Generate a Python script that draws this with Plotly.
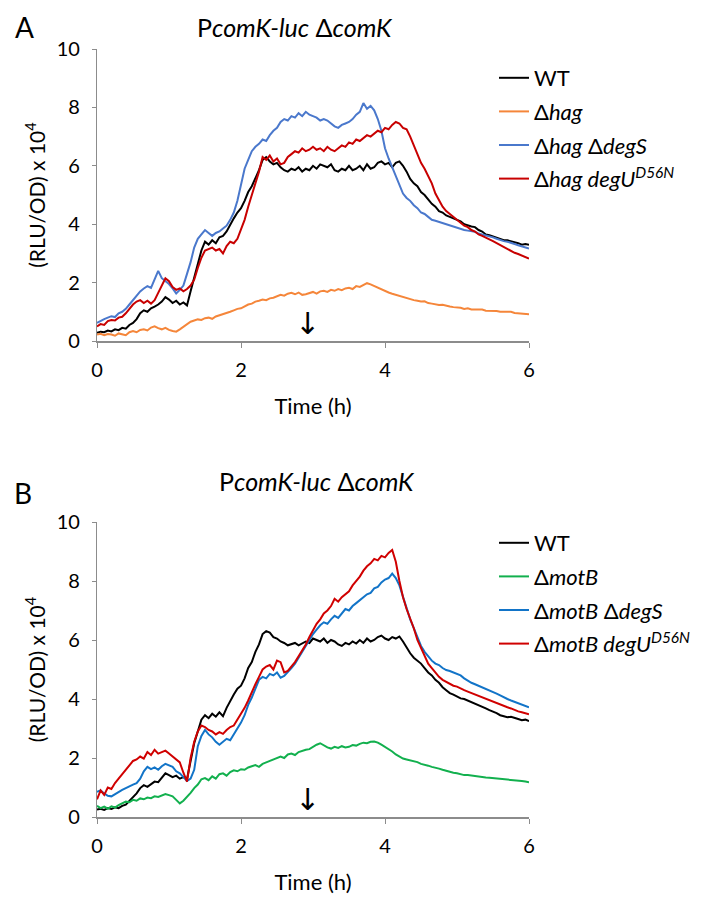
import plotly.graph_objects as go

# ---------------- data ----------------
TIME_H = [0.00, 0.05, 0.10, 0.15, 0.20, 0.25, 0.30, 0.35, 0.40, 0.45,
          0.50, 0.55, 0.60, 0.65, 0.70, 0.75, 0.80, 0.85, 0.90, 0.95,
          1.00, 1.05, 1.10, 1.15, 1.20, 1.25, 1.30, 1.35, 1.40, 1.45,
          1.50, 1.55, 1.60, 1.65, 1.70, 1.75, 1.80, 1.85, 1.90, 1.95,
          2.00, 2.05, 2.10, 2.15, 2.20, 2.25, 2.30, 2.35, 2.40, 2.45,
          2.50, 2.55, 2.60, 2.65, 2.70, 2.75, 2.80, 2.85, 2.90, 2.95,
          3.00, 3.05, 3.10, 3.15, 3.20, 3.25, 3.30, 3.35, 3.40, 3.45,
          3.50, 3.55, 3.60, 3.65, 3.70, 3.75, 3.80, 3.85, 3.90, 3.95,
          4.00, 4.05, 4.10, 4.15, 4.20, 4.25, 4.30, 4.35, 4.40, 4.45,
          4.50, 4.55, 4.60, 4.65, 4.70, 4.75, 4.80, 4.85, 4.90, 4.95,
          5.00, 5.05, 5.10, 5.15, 5.20, 5.25, 5.30, 5.35, 5.40, 5.45,
          5.50, 5.55, 5.60, 5.65, 5.70, 5.75, 5.80, 5.85, 5.90, 5.95,
          6.00]

# Panel A
A_WT = [0.28, 0.32, 0.30, 0.36, 0.33, 0.40, 0.37, 0.45, 0.42, 0.55,
        0.62, 0.75, 0.95, 1.05, 1.00, 1.12, 1.18, 1.25, 1.35, 1.50,
        1.42, 1.30, 1.38, 1.25, 1.32, 1.22, 1.70, 2.20, 2.60, 3.10,
        3.40, 3.30, 3.45, 3.35, 3.55, 3.60, 3.75, 4.00, 4.20, 4.40,
        4.55, 4.80, 5.10, 5.30, 5.55, 5.85, 6.20, 6.30, 6.15, 6.05,
        6.10, 5.95, 5.85, 5.80, 5.90, 5.85, 5.95, 5.80, 5.90, 5.85,
        6.00, 5.90, 6.05, 6.00, 5.95, 6.05, 5.85, 5.80, 5.90, 5.85,
        6.00, 5.85, 5.90, 6.00, 5.85, 6.05, 5.90, 5.95, 6.10, 6.15,
        6.05, 6.10, 5.95, 6.10, 6.15, 6.00, 5.80, 5.55, 5.40, 5.30,
        5.10, 5.00, 4.85, 4.70, 4.60, 4.45, 4.40, 4.30, 4.25, 4.20,
        4.15, 4.10, 4.00, 3.95, 3.92, 3.90, 3.80, 3.75, 3.65, 3.62,
        3.58, 3.55, 3.50, 3.45, 3.45, 3.42, 3.38, 3.35, 3.30, 3.32,
        3.30]
A_HAG = [0.22, 0.25, 0.20, 0.24, 0.22, 0.18, 0.26, 0.22, 0.20, 0.30,
         0.34, 0.30, 0.38, 0.40, 0.36, 0.46, 0.50, 0.44, 0.40, 0.45,
         0.38, 0.34, 0.32, 0.40, 0.48, 0.55, 0.66, 0.70, 0.74, 0.72,
         0.78, 0.80, 0.76, 0.84, 0.88, 0.90, 0.94, 1.00, 1.05, 1.10,
         1.12, 1.18, 1.25, 1.28, 1.35, 1.38, 1.42, 1.40, 1.46, 1.48,
         1.52, 1.58, 1.55, 1.62, 1.65, 1.60, 1.66, 1.58, 1.60, 1.65,
         1.68, 1.62, 1.70, 1.72, 1.68, 1.75, 1.72, 1.78, 1.74, 1.80,
         1.82, 1.78, 1.88, 1.85, 1.92, 1.98, 1.94, 1.88, 1.84, 1.78,
         1.72, 1.66, 1.62, 1.58, 1.55, 1.50, 1.46, 1.44, 1.40, 1.38,
         1.35, 1.36, 1.30, 1.28, 1.25, 1.23, 1.24, 1.20, 1.18, 1.16,
         1.15, 1.14, 1.10, 1.12, 1.08, 1.08, 1.06, 1.08, 1.04, 1.04,
         1.02, 1.03, 1.00, 1.00, 0.98, 1.00, 0.96, 0.95, 0.94, 0.93,
         0.92]
A_HAG_DEGS = [0.62, 0.70, 0.75, 0.80, 0.85, 0.82, 0.95, 1.00, 1.10, 1.25,
              1.40, 1.55, 1.70, 1.80, 1.88, 1.82, 2.10, 2.40, 2.15, 2.05,
              1.95, 1.80, 1.63, 1.75, 1.90, 2.30, 2.70, 3.20, 3.50, 3.65,
              3.80, 3.70, 3.60, 3.70, 3.75, 3.85, 3.95, 4.15, 4.40, 4.80,
              5.40, 5.90, 6.20, 6.50, 6.65, 6.75, 6.90, 6.85, 7.05, 7.20,
              7.30, 7.50, 7.60, 7.55, 7.70, 7.65, 7.80, 7.70, 7.85, 7.75,
              7.70, 7.65, 7.55, 7.60, 7.55, 7.45, 7.35, 7.30, 7.40, 7.45,
              7.50, 7.60, 7.75, 7.85, 8.15, 7.95, 8.05, 7.90, 7.60, 7.20,
              6.60, 6.25, 5.95, 5.60, 5.30, 5.05, 4.90, 4.80, 4.65, 4.55,
              4.40, 4.35, 4.25, 4.15, 4.12, 4.08, 4.05, 4.00, 3.95, 3.92,
              3.88, 3.85, 3.80, 3.78, 3.75, 3.74, 3.68, 3.65, 3.60, 3.58,
              3.55, 3.50, 3.45, 3.42, 3.40, 3.35, 3.32, 3.28, 3.24, 3.20,
              3.17]
A_HAG_DEGU = [0.50, 0.58, 0.55, 0.68, 0.72, 0.70, 0.80, 0.83, 0.95, 1.10,
              1.25, 1.35, 1.40, 1.30, 1.38, 1.28, 1.40, 1.65, 1.90, 2.15,
              2.05, 1.85, 1.75, 1.80, 1.70, 1.78, 1.90, 2.10, 2.50, 2.85,
              3.10, 3.15, 3.20, 3.10, 3.15, 3.00, 3.25, 3.40, 3.35, 3.50,
              3.80, 4.15, 4.60, 5.00, 5.40, 5.80, 6.30, 6.20, 6.35, 6.15,
              6.25, 6.05, 6.10, 6.30, 6.40, 6.50, 6.45, 6.60, 6.50, 6.55,
              6.65, 6.55, 6.60, 6.50, 6.65, 6.55, 6.50, 6.60, 6.70, 6.65,
              6.80, 6.75, 6.90, 6.85, 6.95, 7.05, 7.00, 7.10, 7.20, 7.15,
              7.30, 7.25, 7.40, 7.50, 7.45, 7.30, 7.25, 7.00, 6.70, 6.40,
              6.10, 5.90, 5.65, 5.40, 5.05, 4.80, 4.60, 4.45, 4.35, 4.25,
              4.15, 4.05, 3.95, 3.90, 3.80, 3.75, 3.65, 3.60, 3.55, 3.48,
              3.42, 3.35, 3.30, 3.22, 3.15, 3.10, 3.02, 2.98, 2.92, 2.88,
              2.82]

# Panel B
B_WT = [0.25, 0.28, 0.24, 0.30, 0.27, 0.33, 0.30, 0.38, 0.42, 0.55,
        0.68, 0.80, 0.98, 1.08, 1.02, 1.12, 1.20, 1.18, 1.32, 1.48,
        1.42, 1.35, 1.40, 1.30, 1.35, 1.28, 1.90, 2.50, 2.90, 3.30,
        3.45, 3.35, 3.50, 3.40, 3.55, 3.42, 3.70, 3.95, 4.15, 4.35,
        4.45, 4.70, 5.05, 5.25, 5.60, 5.85, 6.20, 6.30, 6.25, 6.10,
        6.05, 5.95, 5.90, 5.82, 5.85, 5.90, 5.82, 5.88, 5.95, 5.90,
        6.05, 6.00, 5.95, 6.05, 5.90, 6.00, 5.95, 5.85, 5.80, 5.90,
        5.85, 5.95, 5.88, 6.00, 5.90, 6.05, 5.95, 6.00, 6.10, 6.15,
        6.05, 6.00, 6.10, 6.05, 6.12, 5.95, 5.75, 5.55, 5.40, 5.30,
        5.20, 5.05, 4.90, 4.80, 4.65, 4.55, 4.40, 4.30, 4.20, 4.15,
        4.08, 4.02, 4.00, 3.95, 3.90, 3.85, 3.80, 3.75, 3.68, 3.62,
        3.58, 3.52, 3.45, 3.42, 3.38, 3.40, 3.35, 3.32, 3.28, 3.30,
        3.25]
B_MOTB = [0.38, 0.30, 0.35, 0.28, 0.36, 0.32, 0.40, 0.45, 0.52, 0.50,
          0.58, 0.55, 0.63, 0.60, 0.66, 0.64, 0.70, 0.68, 0.72, 0.78,
          0.74, 0.70, 0.58, 0.46, 0.55, 0.68, 0.82, 0.98, 1.10, 1.28,
          1.32, 1.25, 1.38, 1.30, 1.45, 1.48, 1.40, 1.52, 1.58, 1.55,
          1.62, 1.60, 1.68, 1.72, 1.76, 1.70, 1.80, 1.85, 1.90, 1.94,
          1.98, 2.05, 2.00, 2.12, 2.15, 2.10, 2.20, 2.25, 2.28, 2.30,
          2.38, 2.45, 2.50, 2.42, 2.36, 2.32, 2.38, 2.34, 2.40, 2.36,
          2.38, 2.44, 2.42, 2.48, 2.52, 2.50, 2.55, 2.56, 2.52, 2.45,
          2.38, 2.30, 2.22, 2.12, 2.05, 1.98, 1.95, 1.92, 1.88, 1.86,
          1.80, 1.78, 1.74, 1.70, 1.68, 1.64, 1.60, 1.56, 1.53, 1.50,
          1.48, 1.45, 1.42, 1.42, 1.40, 1.38, 1.37, 1.36, 1.34, 1.33,
          1.32, 1.30, 1.30, 1.28, 1.27, 1.25, 1.25, 1.24, 1.22, 1.20,
          1.18]
B_MOTB_DEGS = [0.85, 0.90, 0.80, 0.72, 0.70, 0.78, 0.85, 0.92, 0.98, 1.05,
               1.10, 1.15, 1.30, 1.55, 1.70, 1.62, 1.68, 1.60, 1.72, 1.80,
               1.75, 1.70, 1.55, 1.48, 1.35, 1.22, 1.30, 1.60, 2.40, 2.75,
               2.95, 2.80, 2.70, 2.55, 2.45, 2.55, 2.65, 2.60, 2.80, 3.00,
               3.20, 3.45, 3.80, 4.05, 4.35, 4.65, 4.75, 4.70, 4.85, 4.80,
               4.90, 4.72, 4.78, 4.90, 5.05, 5.20, 5.40, 5.60, 5.80, 6.00,
               6.20, 6.35, 6.50, 6.60, 6.55, 6.70, 6.82, 6.75, 6.90, 7.05,
               7.00, 7.15, 7.25, 7.35, 7.45, 7.55, 7.60, 7.75, 7.80, 7.95,
               8.05, 8.10, 8.25, 8.10, 7.85, 7.45, 7.10, 6.70, 6.40, 6.10,
               5.80, 5.60, 5.45, 5.30, 5.20, 5.15, 5.05, 4.98, 4.95, 4.90,
               4.85, 4.80, 4.70, 4.62, 4.55, 4.50, 4.45, 4.40, 4.35, 4.30,
               4.25, 4.18, 4.12, 4.05, 4.00, 3.95, 3.90, 3.85, 3.80, 3.75,
               3.72]
B_MOTB_DEGU = [0.60, 0.90, 0.75, 1.00, 0.95, 1.15, 1.30, 1.45, 1.60, 1.75,
               1.90, 1.95, 2.05, 1.98, 2.20, 2.10, 2.28, 2.15, 2.20, 2.25,
               2.15, 2.05, 1.95, 1.85, 1.50, 1.20, 2.00, 2.55, 2.90, 3.10,
               3.05, 2.95, 2.90, 2.80, 2.88, 2.82, 2.95, 3.05, 3.10, 3.30,
               3.50, 3.70, 3.95, 4.25, 4.50, 4.75, 5.00, 5.10, 5.15, 5.00,
               5.30, 5.25, 4.90, 4.95, 5.10, 5.25, 5.45, 5.65, 5.85, 6.10,
               6.35, 6.55, 6.70, 6.90, 7.00, 7.15, 7.40, 7.30, 7.45, 7.55,
               7.65, 7.85, 8.00, 8.15, 8.35, 8.50, 8.60, 8.75, 8.70, 8.85,
               8.80, 8.95, 9.05, 8.65, 8.00, 7.45, 7.05, 6.75, 6.40, 6.00,
               5.75, 5.45, 5.20, 5.05, 4.90, 4.75, 4.65, 4.58, 4.50, 4.45,
               4.42, 4.35, 4.30, 4.25, 4.20, 4.15, 4.10, 4.05, 4.00, 3.95,
               3.90, 3.85, 3.80, 3.75, 3.72, 3.68, 3.62, 3.58, 3.55, 3.52,
               3.48]

NAMES_A = ["WT", "Δ<i>hag</i>", "Δ<i>hag</i> Δ<i>degS</i>",
           "Δ<i>hag degU<sup>D56N</sup></i>"]
NAMES_B = ["WT", "Δ<i>motB</i>", "Δ<i>motB</i> Δ<i>degS</i>",
           "Δ<i>motB degU<sup>D56N</sup></i>"]
COLORS_A = ["#000000", "#F5863A", "#4A78CC", "#C80000"]
COLORS_B = ["#000000", "#12B04E", "#1274C8", "#D00000"]

TITLE_TEXT = "P<i>comK-luc</i> Δ<i>comK</i>"
Y_TITLE = "(RLU/OD) x 10<sup>4</sup>"
X_TITLE = "Time (h)"
X_TICKS = [0, 2, 4, 6]
Y_TICKS = [0, 2, 4, 6, 8, 10]
ARROW_TIME_H = 2.93

FONT = "Lato"
# the page has an 8px body margin, so the figure is drawn 8px in from the
# window's corner; size it to fill the rest of the 704x903 window
OFF = 8
W, H = 704 - OFF, 903 - OFF

fig = go.Figure()

series_a = [A_WT, A_HAG, A_HAG_DEGS, A_HAG_DEGU]
series_b = [B_WT, B_MOTB, B_MOTB_DEGS, B_MOTB_DEGU]

for i, (vals, nm, col) in enumerate(zip(series_a, NAMES_A, COLORS_A)):
    fig.add_trace(go.Scatter(x=TIME_H, y=vals, mode="lines", name=nm,
                             line=dict(color=col, width=2),
                             xaxis="x", yaxis="y", legend="legend",
                             legendgroup="a%d" % i))
for i, (vals, nm, col) in enumerate(zip(series_b, NAMES_B, COLORS_B)):
    fig.add_trace(go.Scatter(x=TIME_H, y=vals, mode="lines", name=nm,
                             line=dict(color=col, width=2),
                             xaxis="x2", yaxis="y2", legend="legend2",
                             legendgroup="b%d" % i))


def px_x(p):
    """window pixel x -> paper fraction"""
    return (p - OFF) / W


def px_y(p):
    """window pixel y (from top) -> paper fraction"""
    return 1 - (p - OFF) / H


axis_gray = "#8C8C8C"
xdom = [px_x(97), px_x(529)]
ydomA = [px_y(341), px_y(49)]
ydomB = [px_y(817), px_y(522)]

TICK_FONT = dict(family=FONT, size=20, color="#000")
XLABEL_FONT = dict(family=FONT, size=22, color="#000")
YLABEL_FONT = dict(family=FONT, size=21, color="#000")
LEG_FONT = dict(family=FONT, size=22, color="#000")

common_x = dict(range=[0, 6], tickvals=X_TICKS, showgrid=False, zeroline=False,
                showline=True, linecolor=axis_gray, linewidth=1.5,
                ticks="outside", ticklen=5, tickcolor=axis_gray, tickwidth=1.2,
                tickfont=TICK_FONT, ticklabelstandoff=5, automargin=False,
                title=dict(text=X_TITLE, font=XLABEL_FONT, standoff=19),
                fixedrange=True)
common_y = dict(range=[0, 10], tickvals=Y_TICKS, showgrid=False, zeroline=False,
                showline=True, linecolor=axis_gray, linewidth=1.2,
                ticks="outside", ticklen=4, tickcolor=axis_gray, tickwidth=1.2,
                tickfont=TICK_FONT, ticklabelstandoff=8, automargin=False,
                title=dict(text=Y_TITLE, font=YLABEL_FONT, standoff=5),
                fixedrange=True)

fig.update_layout(
    width=W, height=H,
    margin=dict(l=0, r=0, t=0, b=0, autoexpand=False),
    paper_bgcolor="white", plot_bgcolor="white",
    font=dict(family=FONT, size=21, color="#000"),
    xaxis=dict(domain=xdom, anchor="y", **common_x),
    yaxis=dict(domain=ydomA, anchor="x", **common_y),
    xaxis2=dict(domain=xdom, anchor="y2", **common_x),
    yaxis2=dict(domain=ydomB, anchor="x2", **common_y),
    legend=dict(x=px_x(494), y=px_y(57), xanchor="left", yanchor="top",
                font=LEG_FONT, bgcolor="rgba(0,0,0,0)",
                tracegroupgap=2, itemwidth=30),
    legend2=dict(x=px_x(494), y=px_y(522), xanchor="left", yanchor="top",
                 font=LEG_FONT, bgcolor="rgba(0,0,0,0)",
                 tracegroupgap=2, itemwidth=30),
    showlegend=True,
)

ann = []


def label(text, xp, yp, size, yanchor="middle"):
    ann.append(dict(text=text, x=px_x(xp), y=px_y(yp), xref="paper", yref="paper",
                    xanchor="center", yanchor=yanchor, showarrow=False,
                    font=dict(family=FONT, size=size, color="#000")))


label(TITLE_TEXT, 295, 27, 25)
label(TITLE_TEXT, 317, 481, 25)
label("A", 24, OFF, 28, yanchor="top")
label("B", 23, 493, 28)
for xr, yr in (("x", "y"), ("x2", "y2")):
    ann.append(dict(text="↓", x=ARROW_TIME_H, y=0.6, xref=xr, yref=yr,
                    xanchor="center", yanchor="middle", showarrow=False,
                    font=dict(family="DejaVu Sans", size=30, color="#000")))
fig.update_layout(annotations=ann)

fig.write_html("out.html")
